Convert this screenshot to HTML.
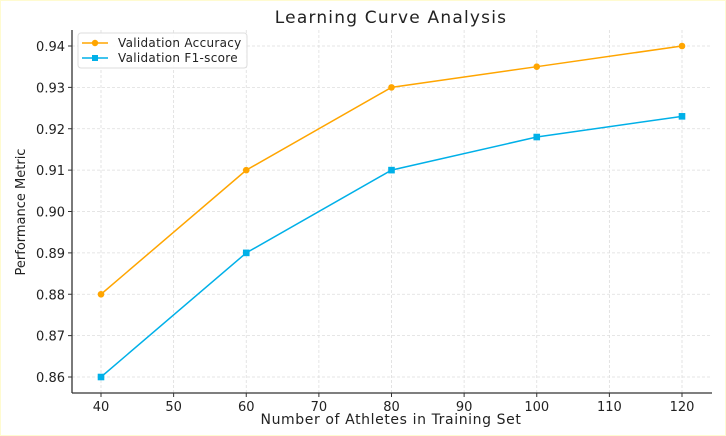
<!DOCTYPE html>
<html><head><meta charset="utf-8"><style>
html,body{margin:0;padding:0;background:#fff;}
svg{display:block;font-family:"DejaVu Sans","Liberation Sans",sans-serif;}
</style></head><body>
<svg id="chart" width="726" height="436" viewBox="0 0 726 436">
<rect x="0" y="0" width="726" height="436" fill="#fff" stroke="#fffbd0" stroke-width="2"/>
<text x="391" y="23" text-anchor="middle" font-size="17" letter-spacing="1.2" fill="#222">Learning Curve Analysis</text>
<g id="grid"></g>
<g id="axes"></g>
<g id="series"></g>
<text x="391" y="424" text-anchor="middle" font-size="14" letter-spacing="0.6" fill="#222">Number of Athletes in Training Set</text>
<text transform="translate(25,212) rotate(-90)" text-anchor="middle" font-size="13" fill="#222">Performance Metric</text>
<g>
<rect x="78" y="33" width="169" height="35" rx="3" fill="#fff" fill-opacity="0.9" stroke="#ddd"/>
<line x1="82" y1="43" x2="108" y2="43" stroke="#FFA500" stroke-width="1.5"/>
<circle cx="95" cy="43" r="3.2" fill="#FFA500"/>
<text x="118" y="47" font-size="12" letter-spacing="0.3" fill="#222">Validation Accuracy</text>
<line x1="82" y1="58" x2="108" y2="58" stroke="#00B0E8" stroke-width="1.5"/>
<rect x="92" y="55" width="6" height="6" fill="#00B0E8"/>
<text x="118" y="62" font-size="12" letter-spacing="0.3" fill="#222">Validation F1-score</text>
</g>
</svg>
<script>
const categories=[40,60,80,100,120];
const accuracy=[0.88,0.91,0.93,0.935,0.94];
const f1score=[0.86,0.89,0.91,0.918,0.923];
const xTicks=[40,50,60,70,80,90,100,110,120];
const yTicks=[0.86,0.87,0.88,0.89,0.90,0.91,0.92,0.93,0.94];
const NS="http://www.w3.org/2000/svg";
const L=72,R=712,T=30,B=393;
function xs(v){return 101+(v-40)*(682-101)/80;}
function ys(v){return 377+(v-0.86)*(46-377)/0.08;}
function mk(tag,attrs,parent){const e=document.createElementNS(NS,tag);for(const k in attrs)e.setAttribute(k,attrs[k]);parent.appendChild(e);return e;}
const grid=document.getElementById('grid'),axes=document.getElementById('axes'),ser=document.getElementById('series');
xTicks.forEach(t=>{
 const g=mk('line',{x1:xs(t),x2:xs(t),y1:T,y2:B,stroke:'#ddd','stroke-dasharray':'3,2','stroke-width':0.8},grid);
 
 
 mk('line',{x1:xs(t),x2:xs(t),y1:B,y2:B+4,stroke:'#333'},axes);
 const tx=mk('text',{x:xs(t),y:B+18,'text-anchor':'middle','font-size':13,fill:'#222'},axes);
 tx.textContent=t;
 
 
});
yTicks.forEach(t=>{
 const g=mk('line',{x1:L,x2:R,y1:ys(t),y2:ys(t),stroke:'#ddd','stroke-dasharray':'3,2','stroke-width':0.8},grid);
 
 
 mk('line',{x1:L-4,x2:L,y1:ys(t),y2:ys(t),stroke:'#333'},axes);
 const tx=mk('text',{x:L-7,y:ys(t)+5,'text-anchor':'end','font-size':13,fill:'#222'},axes);
 tx.textContent=t.toFixed(2);
 
 
});
const ax1=mk('line',{x1:L,x2:L,y1:T,y2:B,stroke:'#333','stroke-width':1.3},axes);


const ax2=mk('line',{x1:L,x2:R,y1:B,y2:B,stroke:'#333','stroke-width':1.3},axes);


function draw(vals,color,shape,name){
 const pl=mk('polyline',{points:categories.map((c,i)=>xs(c)+','+ys(vals[i])).join(' '),fill:'none',stroke:color,'stroke-width':1.5},ser);
 
 
 categories.forEach((c,i)=>{
  let m;
  if(shape==='circle')m=mk('circle',{cx:xs(c),cy:ys(vals[i]),r:3.3,fill:color},ser);
  else m=mk('rect',{x:xs(c)-3.3,y:ys(vals[i])-3.3,width:6.6,height:6.6,fill:color},ser);
  
  
 });
}
draw(accuracy,'#FFA500','circle','accuracy');
draw(f1score,'#00B0E8','square','f1-score');
</script>
</body></html>
